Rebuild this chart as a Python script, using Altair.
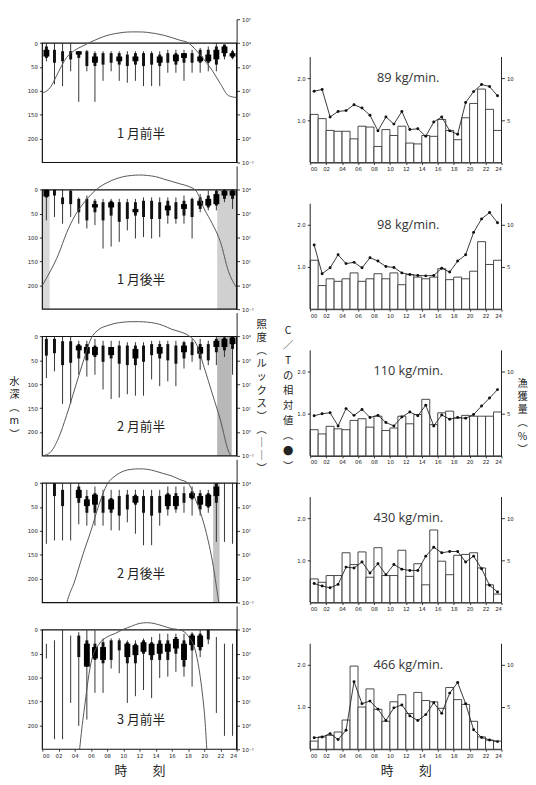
import altair as alt
import pandas as pd

HOURS = list(range(24))
LUX_HOURS = list(range(25))
HOUR_TICKS = list(range(0, 25, 2))
DEPTH_TICKS = [0, 50, 100, 150, 200]
LUX_TICKS_TOP = [-1, 0, 1, 2, 3, 4, 5]
LUX_TICKS = [-1, 0, 1, 2, 3, 4]
CT_TICKS = [1.0, 2.0]
PCT_TICKS = [5, 10]

PERIODS = ["1 月前半", "1 月後半", "2 月前半", "2 月後半", "3 月前半"]
CATCH_RATES = ["89 kg/min.", "98 kg/min.", "110 kg/min.", "430 kg/min.", "466 kg/min."]

# ---- left panels: depth distribution glyphs (m) ----
THIN_LO = [
    [0, 0, 0, 0, 31, 14, 17, 17, 17, 17, 17, 17, 17, 17, 17, 14, 14, 14, 14, 10, 7, 0, 3, 14],
    [0, 0, 0, 0, 16, 12, 19, 19, 19, 19, 19, 19, 16, 16, 16, 16, 16, 12, 16, 9, 2, 0, 0, 0],
    [0, 0, 0, 0, 9, 9, 5, 9, 9, 9, 12, 12, 12, 9, 9, 9, 9, 9, 5, 5, 9, 0, 0, 0],
    [0, 0, 0, 0, 0, 14, 7, 14, 14, 14, 14, 14, 14, 14, 14, 7, 7, 7, 7, 14, 14, 0, 0, 0],
    [29, 22, 1, 12, 5, 1, 1, 18, 18, 18, 22, 22, 18, 15, 8, 8, 8, 8, 5, 1, 0, 15, 29, 29],
]
THIN_HI = [
    [38, 86, 90, 59, 123, 59, 123, 79, 59, 79, 83, 79, 90, 90, 90, 62, 62, 79, 62, 62, 59, 59, 34, 34],
    [64, 57, 71, 57, 71, 81, 74, 123, 119, 109, 85, 102, 99, 102, 99, 71, 71, 71, 102, 47, 43, 43, 26, 40],
    [87, 73, 141, 141, 80, 84, 80, 111, 131, 128, 121, 124, 124, 90, 104, 94, 104, 67, 53, 70, 60, 60, 43, 80],
    [127, 120, 120, 120, 86, 89, 89, 89, 99, 99, 82, 106, 130, 130, 89, 68, 62, 62, 68, 68, 62, 123, 123, 127],
    [60, 229, 229, 153, 201, 188, 132, 132, 81, 91, 153, 139, 126, 143, 101, 98, 88, 98, 119, 57, 30, 174, 222, 222],
]
MID_LO = [
    [7, 14, 17, 17, 17, 17, 21, 21, 21, 21, 24, 21, 21, 21, 24, 21, 21, 21, 21, 14, 14, 7, 3, 17],
    [0, 0, 16, 2, 19, 19, 23, 26, 23, 26, 26, 26, 23, 23, 26, 23, 26, 23, 19, 16, 12, 2, 0, 0],
    [5, 5, 10, 10, 16, 16, 19, 19, 22, 19, 19, 19, 19, 16, 16, 16, 19, 12, 12, 16, 16, 5, 2, 0],
    [None, 0, 14, None, 7, 27, 21, 27, 31, 27, 24, 24, 27, 27, 27, 21, 21, 21, 17, 21, 21, 0, None, None],
    [None, None, None, None, 12, 22, 29, 26, 22, 22, 26, 29, 22, 26, 22, 22, 15, 22, 8, 8, 0, None, None, None],
]
MID_HI = [
    [31, 41, 38, 34, 31, 48, 48, 45, 41, 45, 48, 45, 48, 45, 48, 41, 45, 41, 41, 41, 41, 45, 28, 31],
    [16, 12, 30, 30, 47, 64, 47, 64, 54, 67, 61, 54, 57, 61, 61, 54, 61, 54, 57, 40, 37, 33, 19, 19],
    [40, 35, 60, 55, 46, 50, 43, 53, 46, 57, 60, 60, 53, 39, 46, 50, 57, 46, 39, 46, 50, 33, 29, 26],
    [None, 27, 48, None, 41, 62, 62, 62, 62, 68, 55, 45, 62, 68, 62, 55, 55, 41, 34, 55, 51, 41, None, None],
    [None, None, None, None, 57, 77, 63, 70, 63, 43, 70, 70, 50, 63, 63, 63, 50, 77, 43, 43, 20, None, None, None],
]
CORE_LO = [
    [14, None, None, None, 17, None, 28, None, None, 28, None, 28, None, None, 28, None, 24, 21, None, 28, 24, 14, 7, 21],
    [0, None, None, None, None, None, 30, None, 26, None, None, 40, None, None, None, 33, None, 30, None, 23, 19, 9, 2, 2],
    [None, None, None, None, 19, 22, 22, None, 22, None, None, 26, None, None, 22, None, None, 19, None, 22, None, 9, 5, 2],
    [None, None, None, None, 14, 34, 24, None, 34, None, None, 27, None, None, None, 24, 27, None, 21, 27, 24, 7, None, None],
    [None, None, None, None, None, 29, 36, 36, None, None, 29, 32, 26, 29, 29, 29, 19, 29, 12, 12, None, None, None, None],
]
CORE_HI = [
    [28, None, None, None, 24, None, 41, None, None, 38, None, 38, None, None, 41, None, 38, 31, None, 38, 38, 34, 21, 28],
    [14, None, None, None, None, None, 37, None, 37, None, None, 47, None, None, None, 43, None, 40, None, 33, 33, 30, 12, 12],
    [None, None, None, None, 29, 36, 39, None, 39, None, None, 46, None, None, 36, None, None, 33, None, 36, None, 22, 22, 16],
    [None, None, None, None, 31, 48, 45, None, 55, None, None, 41, None, None, None, 48, 48, None, 31, 45, 48, 27, None, None],
    [None, None, None, None, None, 77, 60, 63, None, None, 57, 53, 46, 53, 50, 46, 39, 63, 32, 36, None, None, None, None],
]

# illuminance, log10(lux) at each hour 0..24
LOG_LUX = [
    [1.9, 2.15, 2.8, 3.4, 3.7, 3.88, 4.05, 4.2, 4.32, 4.4, 4.45, 4.47, 4.47, 4.45, 4.4, 4.33, 4.23, 4.12, 4.02, 3.7, 3.3, 2.85, 2.3, 1.8, 1.72],
    [0.0, 0.6, 1.3, 2.2, 2.9, 3.4, 3.8, 4.1, 4.3, 4.45, 4.55, 4.6, 4.62, 4.6, 4.55, 4.45, 4.35, 4.25, 4.15, 3.95, 3.2, 2.58, 1.82, 0.58, -0.1],
    [-1.0, -0.85, -0.25, 0.7, 1.8, 2.9, 3.9, 4.3, 4.45, 4.55, 4.6, 4.62, 4.62, 4.6, 4.55, 4.45, 4.3, 4.2, 4.05, 3.7, 2.7, 1.6, 0.5, -0.8, -1.2],
    [-3, -3, -3, -1.05, -0.1, 1.0, 2.0, 3.1, 3.95, 4.3, 4.5, 4.58, 4.6, 4.58, 4.5, 4.4, 4.3, 4.15, 4.0, 3.25, 2.25, 0.75, -1.4, -3, -3],
    [-3, -3, -3, -3, -2.5, 0.2, 2.6, 3.4, 3.7, 3.85, 4.02, 4.15, 4.27, 4.3, 4.25, 4.15, 4.05, 4.0, 3.75, 3.0, 0.6, -4, -4, -4, -4],
]
SHADE_START = [[], [0.0, 21.6], [21.6], [21.1], []]
SHADE_END = [[], [0.9, 24.0], [23.4], [21.9], []]
SHADE_GRAY = [[], ["#d8d8d8", "#d0d0d0"], ["#b8b8b8"], ["#c4c4c4"], []]
PERIOD_LABEL_HOUR = 12.2
PERIOD_LABEL_DEPTH = 190

# ---- right panels ----
CATCH_PCT = [
    [5.7, 5.2, 3.8, 3.7, 3.7, 2.8, 4.3, 4.2, 1.9, 3.9, 3.2, 4.3, 2.3, 2.2, 3.2, 3.1, 5.1, 3.8, 2.7, 5.3, 7.0, 8.7, 6.3, 3.8],
    [5.8, 2.8, 3.6, 3.3, 3.6, 4.3, 3.3, 3.6, 4.2, 3.6, 4.3, 2.9, 4.1, 3.8, 3.6, 3.8, 4.8, 3.5, 3.8, 3.6, 4.5, 8.0, 5.3, 5.8],
    [3.1, 2.6, 3.5, 3.2, 3.1, 4.2, 4.4, 3.4, 4.7, 3.0, 3.3, 4.7, 3.8, 4.9, 6.7, 3.7, 5.1, 5.3, 4.5, 4.8, 4.7, 4.7, 4.7, 5.2],
    [2.8, 2.4, 3.2, 3.2, 5.9, 4.5, 6.0, 3.0, 6.5, 3.2, 3.2, 6.2, 3.1, 4.6, 2.1, 8.6, 4.9, 3.3, 5.6, 5.7, 5.9, 4.1, 2.1, 1.0],
    [0.96, 1.46, 1.65, 2.04, 3.46, 9.85, 5.0, 7.15, 4.73, 3.31, 5.62, 6.46, 4.23, 6.73, 5.77, 5.62, 4.85, 7.31, 5.88, 5.31, 3.31, 1.46, 1.08, 0.96],
]
CT_REL = [
    [1.69, 1.73, 1.08, 1.21, 1.23, 1.37, 1.29, 1.12, 0.75, 1.08, 0.91, 1.21, 0.78, 0.80, 0.62, 0.96, 1.08, 0.75, 0.67, 1.42, 1.68, 1.85, 1.80, 1.58],
    [1.52, 0.84, 0.98, 1.29, 1.08, 1.11, 0.98, 1.22, 1.14, 1.01, 0.99, 0.86, 0.82, 0.80, 0.79, 0.80, 0.97, 0.88, 1.14, 1.29, 1.82, 2.14, 2.29, 2.05],
    [0.95, 1.00, 1.02, 0.71, 1.12, 0.96, 1.10, 0.91, 0.96, 0.79, 0.71, 0.92, 1.04, 0.95, 1.20, 0.71, 0.97, 0.87, 0.91, 0.89, 0.98, 1.18, 1.37, 1.57],
    [0.45, 0.39, 0.35, 0.43, 0.84, 0.82, 0.96, 0.70, 0.92, 0.66, 0.90, 0.79, 0.76, 0.76, 1.10, 1.31, 1.18, 1.21, 1.21, 0.96, 1.10, 0.80, 0.41, 0.25],
    [0.27, 0.29, 0.37, 0.23, 0.45, 1.60, 1.08, 1.14, 0.95, 0.68, 0.98, 1.05, 0.79, 0.68, 0.82, 1.10, 0.85, 1.33, 1.58, 1.08, 0.46, 0.28, 0.22, 0.18],
]
CT_AXIS_TOP = 2.5
RATE_LABEL_HOUR = 12.3
RATE_LABEL_CT = 2.0

# ---- layout constants ----
LW, RW, PH = 198, 195, 146
DEPTH_DOMAIN = [-50, 250]
LUX_DOMAIN = [-1, 5]
CT_DOMAIN = [0, PH / 43.0]
PCT_DOMAIN = [0, 5 * PH / 43.0]

JP = "Noto Sans CJK JP"
SMALL = "DejaVu Sans"
HOUR_LABEL = "datum.value < 10 ? '0' + datum.value : '' + datum.value"
SUP = "'10' + ['\u207b\u00b9','\u2070','\u00b9','\u00b2','\u00b3','\u2074','\u2075'][datum.value + 1]"

XS = alt.Scale(domain=[0, 24], nice=False, zero=False)


def vtitle(chars, tx, ty, lh, size=10.5):
    return dict(title=chars, titleAngle=0, titleX=tx, titleY=ty, titleAlign="center",
                titleBaseline="top", titleLineHeight=lh, titleFontSize=size, titleFont=JP,
                titleFontWeight="normal", titleColor="#222")


def left_panel(k):
    last = k == 4
    mid = k == 2
    if last:
        xax = alt.Axis(values=HOUR_TICKS, labelExpr=HOUR_LABEL, labelFontSize=5.5, labelFont=SMALL,
                       tickSize=2, domain=False, grid=False, labelPadding=2, title="時　　刻",
                       titleFont=JP, titleFontSize=13, titleFontWeight="normal", titlePadding=6,
                       titleColor="#222")
    else:
        xax = None
    ykw = dict(values=DEPTH_TICKS, labelFontSize=5.5, labelFont=SMALL, tickSize=3, domain=False,
               grid=False, labelPadding=2)
    if mid:
        ykw.update(vtitle(["水", "深", "︵", "m", "︶"], -29, 65, 13.5))
    else:
        ykw.update(title="")
    yax = alt.Axis(**ykw)
    ds = alt.Scale(domain=DEPTH_DOMAIN, reverse=True, nice=False, zero=False)

    def X(f):
        return alt.X(f, type="quantitative", scale=XS, axis=xax) if xax is not None else \
            alt.X(f, type="quantitative", scale=XS, axis=None)

    def Y(f):
        return alt.Y(f, type="quantitative", scale=ds, axis=yax)

    g = pd.DataFrame({"h": [h + 0.5 for h in HOURS], "tl": THIN_LO[k], "th": THIN_HI[k],
                      "ml": MID_LO[k], "mh": MID_HI[k], "cl": CORE_LO[k], "ch": CORE_HI[k]})
    shade = pd.DataFrame({"s": SHADE_START[k], "e": SHADE_END[k], "c": SHADE_GRAY[k],
                          "top": [0] * len(SHADE_START[k]), "bot": [250] * len(SHADE_START[k])})
    frame = pd.DataFrame({"s": [0], "e": [24], "top": [0], "bot": [250]})
    lab = pd.DataFrame({"h": [PERIOD_LABEL_HOUR], "d": [PERIOD_LABEL_DEPTH], "t": [PERIODS[k]]})

    layers = []
    if len(shade):
        layers.append(alt.Chart(shade).mark_rect().encode(
            x=X("s"), x2="e", y=Y("top"), y2="bot", color=alt.Color("c:N", scale=None)))
    layers.append(alt.Chart(g).mark_rule(strokeWidth=1, color="#333").encode(x=X("h"), y=Y("tl"), y2="th"))
    layers.append(alt.Chart(g).mark_rule(strokeWidth=3, color="#111").encode(x=X("h"), y=Y("ml"), y2="mh"))
    layers.append(alt.Chart(g).mark_rule(strokeWidth=6, color="#000").encode(x=X("h"), y=Y("cl"), y2="ch"))
    layers.append(alt.Chart(frame).mark_rect(filled=False, stroke="#111", strokeWidth=1.2).encode(
        x=X("s"), x2="e", y=Y("top"), y2="bot"))
    layers.append(alt.Chart(lab).mark_text(font=JP, fontSize=13, color="#222").encode(
        x=X("h"), y=Y("d"), text="t:N"))
    depth = alt.layer(*layers)

    lkw = dict(orient="right", values=LUX_TICKS_TOP if k == 0 else LUX_TICKS, labelExpr=SUP,
               labelFontSize=5.5, labelFont=SMALL, tickSize=3, grid=False, domain=True,
               domainColor="#222", labelPadding=2)
    if mid:
        lkw.update(vtitle(["照", "度", "︵", "ル", "ッ", "ク", "ス", "︶", "︵", "│", "│", "︶"], 25, 7, 13.4))
    else:
        lkw.update(title="")
    lux = pd.DataFrame({"h": LUX_HOURS, "v": LOG_LUX[k]})
    curve = alt.Chart(lux).mark_line(color="#555", strokeWidth=1, interpolate="monotone", clip=True).encode(
        x=X("h"), y=alt.Y("v:Q", scale=alt.Scale(domain=LUX_DOMAIN, nice=False, zero=False), axis=alt.Axis(**lkw)))
    return alt.layer(depth, curve).resolve_scale(y="independent").properties(width=LW, height=PH)


def right_panel(k):
    last = k == 4
    mid = k == 2
    xkw = dict(values=HOUR_TICKS, labelExpr=HOUR_LABEL, labelFontSize=5.5, labelFont=SMALL, tickSize=2,
               domain=True, domainColor="#222", grid=False, labelPadding=2)
    if last:
        xkw.update(title="時　　刻", titleFont=JP, titleFontSize=13, titleFontWeight="normal",
                   titlePadding=6, titleColor="#222")
    else:
        xkw.update(title="")
    xax = alt.Axis(**xkw)

    def X(f):
        return alt.X(f, type="quantitative", scale=XS, axis=xax)

    ckw = dict(orient="left", values=CT_TICKS, format=".1f", labelFontSize=5.5, labelFont=SMALL,
               tickSize=3, domain=False, grid=False, labelPadding=2)
    if mid:
        ckw.update(vtitle(["C", "／", "T", "の", "相", "対", "値", "︵", "●", "︶"], -23, 13, 15.4))
    else:
        ckw.update(title="")
    cax = alt.Axis(**ckw)
    cs = alt.Scale(domain=CT_DOMAIN, nice=False, zero=False)

    pkw = dict(orient="right", values=PCT_TICKS, labelFontSize=5.5, labelFont=SMALL, tickSize=3,
               domain=False, grid=False, labelPadding=2)
    if mid:
        pkw.update(vtitle(["漁", "獲", "量", "︵", "%", "︶"], 21, 67, 13.5))
    else:
        pkw.update(title="")
    pax = alt.Axis(**pkw)

    bars = pd.DataFrame({"s": HOURS, "e": [h + 1 for h in HOURS], "p": CATCH_PCT[k], "b": [0] * 24})
    pts = pd.DataFrame({"h": [h + 0.5 for h in HOURS], "c": CT_REL[k]})
    axl = pd.DataFrame({"h": [0, 24], "y0": [0, 0], "y1": [CT_AXIS_TOP, CT_AXIS_TOP]})
    lab = pd.DataFrame({"h": [RATE_LABEL_HOUR], "c": [RATE_LABEL_CT], "t": [CATCH_RATES[k]]})

    bar_layer = alt.Chart(bars).mark_rect(fill="white", stroke="#333", strokeWidth=0.9).encode(
        x=X("s"), x2="e",
        y=alt.Y("p:Q", scale=alt.Scale(domain=PCT_DOMAIN, nice=False, zero=False), axis=pax), y2="b")

    def Y(f):
        return alt.Y(f, type="quantitative", scale=cs, axis=cax)

    ct_layers = alt.layer(
        alt.Chart(axl).mark_rule(color="#222", strokeWidth=1).encode(x=X("h"), y=Y("y0"), y2="y1"),
        alt.Chart(pts).mark_line(color="#222", strokeWidth=0.9).encode(x=X("h"), y=Y("c")),
        alt.Chart(pts).mark_circle(size=9, color="#111", opacity=1).encode(x=X("h"), y=Y("c")),
        alt.Chart(lab).mark_text(font="Open Sans", fontSize=13, color="#333").encode(x=X("h"), y=Y("c"), text="t:N"),
    )
    return alt.layer(bar_layer, ct_layers).resolve_scale(y="independent").properties(width=RW, height=PH)


panels = []
for k in range(5):
    panels.append(left_panel(k))
    panels.append(right_panel(k))

chart = alt.concat(*panels, columns=2, spacing={"row": 3.5, "column": 75}, bounds="flush").properties(
    padding={"left": 0, "top": 2, "right": 0, "bottom": 0}
).configure_view(stroke=None).configure_axis(labelColor="#222", tickColor="#333")

chart.save("out.html", embed_options={"renderer": "svg", "actions": False})
